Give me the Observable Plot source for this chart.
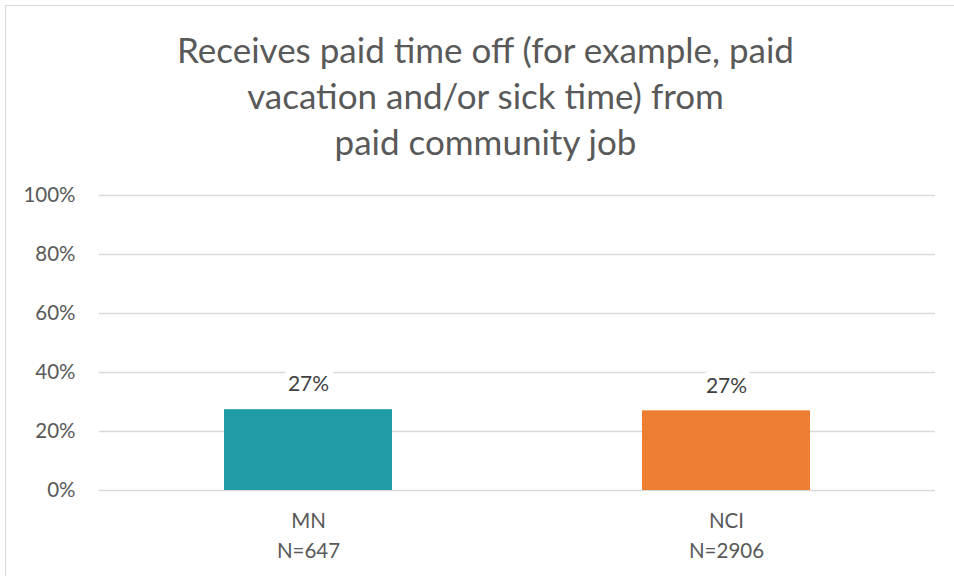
<!DOCTYPE html>
<html>
<head>
<meta charset="utf-8">
<script src="https://cdn.jsdelivr.net/npm/d3@7"></script>
<script src="https://cdn.jsdelivr.net/npm/@observablehq/plot@0.6"></script>
<style>
  html, body { margin: 0; padding: 0; background: #fff; width: 954px; height: 576px; overflow: hidden; }
  #frame { position: absolute; left: 5px; top: 5px; width: 980px; height: 600px; border: 1px solid #d9d9d9; box-sizing: border-box; }
  #title { position: absolute; left: 17px; top: 26px; width: 937px; text-align: center;
           font-family: Lato, "Open Sans", sans-serif; font-size: 35px; line-height: 46px; color: #595959; }
  #chart { position: absolute; left: 0; top: 170px; }
</style>
</head>
<body>
<div id="frame"></div>
<div id="title">Receives paid time off (for example, paid<br>vacation and/or sick time) from<br>paid community job</div>
<div id="chart"></div>
<script>
const categories = ["MN", "NCI"];
const sampleSizes = ["N=647", "N=2906"];
const values = [0.274, 0.270];
const valueLabels = ["27%", "27%"];
const barColors = ["#219CA7", "#ED7D31"];
const yTicks = [0, 0.2, 0.4, 0.6, 0.8, 1.0];

const data = categories.map((c, i) => ({
  cat: c, n: sampleSizes[i], value: values[i], label: valueLabels[i], color: barColors[i]
}));

const font = "Lato, 'Open Sans', sans-serif";

const chart = Plot.plot({
  width: 954,
  height: 406,
  marginLeft: 99,
  marginRight: 19,
  marginTop: 25,
  marginBottom: 86,
  style: { fontFamily: font, background: "transparent", overflow: "visible" },
  x: { domain: categories, paddingInner: 0.598, paddingOuter: 0.299, label: null },
  y: { domain: [0, 1], label: null },
  marks: [
    Plot.gridY(yTicks, { stroke: "#d9d9d9", strokeOpacity: 1, strokeWidth: 1.5 }),
    Plot.barY(data, { x: "cat", y: "value", fill: "color" }),
    Plot.text(data, { x: "cat", y: "value", text: "label", dy: -25, fontSize: 21, fill: "#404040",
                      stroke: "white", strokeWidth: 14, lineAnchor: "middle" }),
    Plot.axisY(yTicks, { tickSize: 0, tickPadding: 24, tickFormat: d => Math.round(d * 100) + "%",
                         fontSize: 20.5, fill: "#595959", label: null }),
    Plot.axisX({ tickSize: 0, tickPadding: 17, fontSize: 20.5, fill: "#595959", lineHeight: 1.43, label: null,
                 tickFormat: (d, i) => d + "\n" + sampleSizes[categories.indexOf(d)] })
  ]
});
document.getElementById("chart").appendChild(chart);
</script>
</body>
</html>
